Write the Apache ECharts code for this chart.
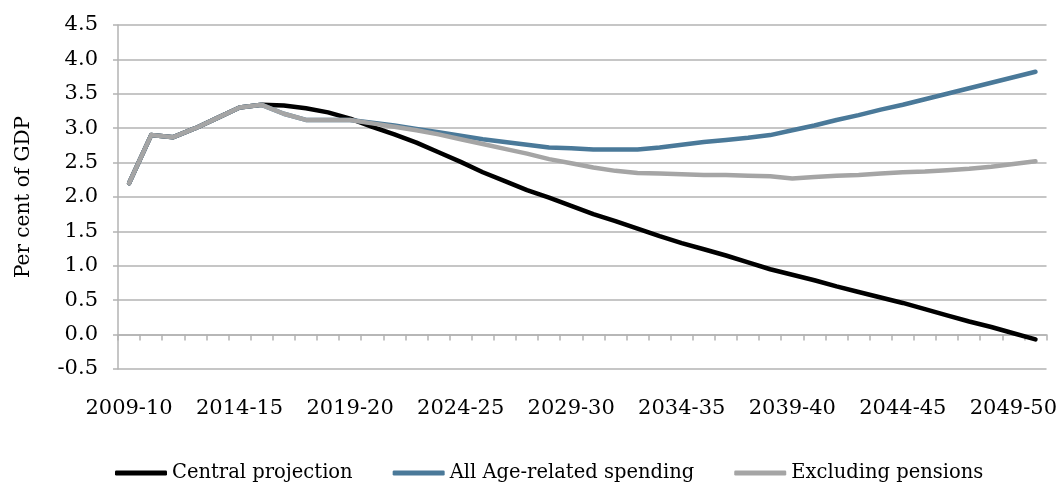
<!DOCTYPE html>
<html>
<head>
<meta charset="utf-8">
<style>
html, body { margin: 0; padding: 0; background: #fff; }
#chart { width: 1060px; height: 482px; }
</style>
<script src="https://cdn.jsdelivr.net/npm/echarts@6/dist/echarts.min.js"></script>
</head>
<body>
<div id="chart"></div>
<script>
var years = [];
for (var y = 2009; y <= 2050; y++) {
    years.push(y + '-' + String((y + 1) % 100).padStart(2, '0'));
}

var central = [2.20, 2.90, 2.87, 3.00, 3.15, 3.30, 3.34, 3.33, 3.29, 3.23, 3.14, 3.02, 2.91, 2.79,
    2.65, 2.51, 2.36, 2.23, 2.10, 1.99, 1.87, 1.75, 1.65, 1.54, 1.43, 1.33, 1.24, 1.15,
    1.05, 0.95, 0.87, 0.79, 0.70, 0.62, 0.54, 0.46, 0.37, 0.28, 0.19, 0.11, 0.02, -0.07];

var ageRelated = [2.20, 2.90, 2.87, 3.00, 3.15, 3.30, 3.34, 3.21, 3.12, 3.12, 3.12, 3.08, 3.04, 2.99,
    2.94, 2.89, 2.84, 2.80, 2.76, 2.72, 2.71, 2.69, 2.69, 2.69, 2.72, 2.76, 2.80, 2.83,
    2.86, 2.90, 2.97, 3.04, 3.12, 3.19, 3.27, 3.34, 3.42, 3.50, 3.58, 3.66, 3.74, 3.82];

var exPensions = [2.20, 2.90, 2.87, 3.00, 3.15, 3.30, 3.34, 3.21, 3.12, 3.12, 3.12, 3.07, 3.02, 2.97,
    2.91, 2.84, 2.77, 2.70, 2.63, 2.55, 2.49, 2.43, 2.38, 2.35, 2.34, 2.33, 2.32, 2.32,
    2.31, 2.30, 2.27, 2.29, 2.31, 2.32, 2.34, 2.36, 2.37, 2.39, 2.41, 2.44, 2.48, 2.52];

var seriesNames = ['Central projection', 'All Age-related spending', 'Excluding pensions'];
var seriesColors = ['#000000', '#4a7999', '#a5a5a5'];

var font = '"DejaVu Serif", serif';
var gridColor = '#b3b3b3';

var chart = echarts.init(document.getElementById('chart'));

var series = [central, ageRelated, exPensions].map(function (d, i) {
    return {
        name: seriesNames[i],
        type: 'line',
        data: d,
        showSymbol: false,
        symbol: 'none',
        xAxisIndex: 0,
        lineStyle: { width: 4.5, color: seriesColors[i], cap: 'round', join: 'round' },
        itemStyle: { color: seriesColors[i] },
        animation: false
    };
});

chart.setOption({
    backgroundColor: '#fff',
    animation: false,
    grid: { left: 118, right: 13, top: 25, bottom: 113 },
    legend: {
        top: 458,
        left: 110,
        itemWidth: 52,
        itemHeight: 5,
        itemGap: 40,
        icon: 'roundRect',
        textStyle: { fontFamily: font, fontSize: 19.5, color: '#000' },
        data: seriesNames
    },
    xAxis: [{
        type: 'category',
        data: years,
        boundaryGap: true,
        position: 'bottom',
        axisLine: { show: false, onZero: false },
        axisTick: { show: false },
        axisLabel: {
            interval: 4,
            margin: 29,
            fontFamily: font,
            fontSize: 21,
            color: '#000'
        }
    }, {
        type: 'category',
        data: years,
        boundaryGap: true,
        position: 'bottom',
        axisLine: { show: true, onZero: true, lineStyle: { color: gridColor, width: 1.5 } },
        axisTick: { show: true, interval: 0, length: 6, lineStyle: { color: gridColor, width: 1.5 } },
        axisLabel: { show: false }
    }],
    yAxis: {
        type: 'value',
        min: -0.5,
        max: 4.5,
        interval: 0.5,
        name: 'Per cent of GDP',
        nameLocation: 'middle',
        nameGap: 84,
        nameRotate: 90,
        nameTextStyle: { fontFamily: font, fontSize: 20, color: '#000' },
        axisLine: { show: true, lineStyle: { color: gridColor, width: 1.5 } },
        axisTick: { show: true, length: 5, lineStyle: { color: gridColor, width: 1.5 } },
        splitLine: { show: true, lineStyle: { color: gridColor, width: 1.5 } },
        axisLabel: {
            margin: 20,
            fontFamily: font,
            fontSize: 21,
            color: '#000',
            formatter: function (v) { return v.toFixed(1); }
        }
    },
    series: series
});
</script>
</body>
</html>
